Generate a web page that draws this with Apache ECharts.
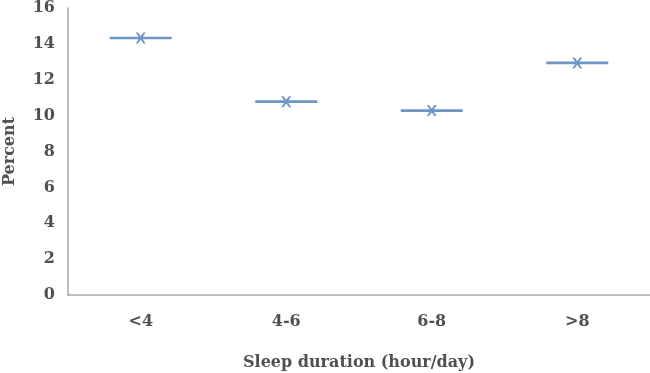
<!DOCTYPE html>
<html>
<head>
<meta charset="utf-8">
<script src="https://cdn.jsdelivr.net/npm/echarts@6/dist/echarts.min.js"></script>
<style>
  html, body { margin: 0; padding: 0; background: #fff; }
  #main { width: 650px; height: 373px; }
</style>
</head>
<body>
<div id="main"></div>
<script>
  var categories = ['<4', '4-6', '6-8', '>8'];
  var percentValues = [14.33, 10.78, 10.28, 12.94];
  var yTicks = [0, 2, 4, 6, 8, 10, 12, 14, 16];

  var chart = echarts.init(document.getElementById('main'));
  var labelFont = {
    color: '#505050',
    fontFamily: 'DejaVu Serif',
    fontWeight: 'bold',
    fontSize: 16
  };

  chart.setOption({
    animation: false,
    grid: { left: 68, right: 0, top: 8, bottom: 78, outerBoundsMode: 'none' },
    xAxis: {
      type: 'category',
      data: categories,
      name: 'Sleep duration (hour/day)',
      nameLocation: 'middle',
      nameGap: 60,
      nameTextStyle: labelFont,
      axisLine: { lineStyle: { color: '#a6a6a6', width: 1.5 } },
      axisTick: { show: false },
      axisLabel: Object.assign({ margin: 19 }, labelFont)
    },
    yAxis: {
      type: 'value',
      min: yTicks[0],
      max: yTicks[yTicks.length - 1],
      interval: 2,
      name: 'Percent',
      nameLocation: 'middle',
      nameGap: 50,
      nameTextStyle: labelFont,
      axisLine: { show: true, lineStyle: { color: '#a6a6a6', width: 1.5 } },
      axisTick: { show: false },
      splitLine: { show: false },
      axisLabel: Object.assign({ margin: 13 }, labelFont)
    },
    series: [{
      type: 'scatter',
      data: percentValues,
      // horizontal dash with an x in the middle (filled outline)
      symbol: 'path://M0,4.2H62V6.8H0Z M26,0H28.2L31,3.6L33.8,0H36L32.2,5.5L36,11H33.8L31,7.4L28.2,11H26L29.8,5.5Z',
      symbolSize: [62, 11],
      itemStyle: { color: '#4a7bb5' }
    }]
  });
</script>
</body>
</html>
